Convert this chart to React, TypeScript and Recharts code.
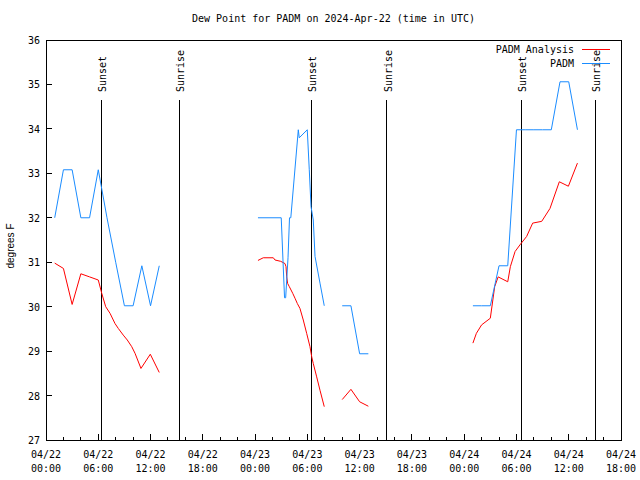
import { LineChart, Line, XAxis, YAxis, ReferenceLine, Legend } from 'recharts'

// hours since 04/22 00:00 UTC, null = no report
const padmHours = [
  1, 2, 3, 4, 5, 6, 7, 8, 9, 10, 11, 12, 13, 18,
  24.33, 27, 27.38, 27.51, 27.78, 27.95, 28.1, 28.96, 29.07, 29.99, 30.22, 30.42, 30.68, 30.88, 31.45, 31.94, 33,
  34, 35, 36, 37, 43,
  49, 50, 51, 52, 53, 54, 55, 56, 57, 58, 59, 60, 61,
]
const padmDewPoint = [
  32.0, 33.08, 33.08, 32.0, 32.0, 33.08, 32.0, 31.0, 30.02, 30.02, 30.92, 30.02, 30.92, null,
  32.0, 32.0, 30.2, 30.2, 31.1, 32.0, 32.0, 33.98, 33.8, 33.98, 33.08, 32.25, 31.95, 31.13, 30.53, 30.02, null,
  30.02, 30.02, 28.94, 28.94, null,
  30.02, 30.02, 30.02, 30.92, 30.92, 33.98, 33.98, 33.98, 33.98, 33.98, 35.06, 35.06, 33.98,
]

const analysisHours = [
  1, 2, 3, 4, 5, 6, 6.4, 6.85, 7.35, 7.92, 8.3, 8.87, 9.33, 9.84, 10.22, 10.9, 11.97, 13, 18,
  24.33, 24.94, 26.09, 26.29, 26.94, 27.43, 27.55, 27.63, 27.74, 27.93, 28.32, 28.58, 28.85, 29.15, 29.53, 29.92,
  30.3, 30.5, 30.68, 31.07, 31.45, 31.94, 33,
  34, 35, 36, 37, 43,
  49, 49.4, 50, 51, 51.5, 51.9, 53, 53.3, 53.84, 54.4, 55.17, 55.86, 56.9, 57.85, 58.92, 59.96, 61,
]
const analysisDewPoint = [
  30.98, 30.86, 30.05, 30.74, 30.67, 30.6, 30.3, 30.0, 29.85, 29.62, 29.51, 29.36, 29.25, 29.1, 28.95, 28.61, 28.93, 28.52, null,
  31.04, 31.1, 31.1, 31.05, 31.02, 30.97, 30.9, 30.67, 30.52, 30.45, 30.3, 30.19, 30.07, 29.96, 29.7, 29.4,
  29.1, 28.87, 28.72, 28.42, 28.12, 27.75, null,
  27.91, 28.14, 27.86, 27.76, null,
  29.18, 29.4, 29.59, 29.74, 30.45, 30.67, 30.56, 30.9, 31.24, 31.39, 31.58, 31.88, 31.92, 32.21, 32.81, 32.71, 33.23,
]

const sunsetHours = [6.35, 30.45, 54.55]
const sunriseHours = [15.27, 39.1, 63.05]

const seriesNames = ['PADM Analysis', 'PADM']
const seriesColors = ['#ff0000', '#1a8cff']

const dayLabels = ['04/22', '04/23', '04/24']
const hourLabels = ['00:00', '06:00', '12:00', '18:00']
const xTicks = [
  0, 2, 4, 6, 8, 10, 12, 14, 16, 18, 20, 22, 24, 26, 28, 30, 32, 34, 36,
  38, 40, 42, 44, 46, 48, 50, 52, 54, 56, 58, 60, 62, 64, 66,
]
const yTicks = [27, 28, 29, 30, 31, 32, 33, 34, 35, 36]
const xDomain = [0, 66]
const yDomain = [27, 36]

const padmData = padmHours.map((h, i) => ({ h, v: padmDewPoint[i] }))
const analysisData = analysisHours.map((h, i) => ({ h, v: analysisDewPoint[i] }))

// layout
const W = 640
const H = 480
const plotLeft = 46
const plotTop = 40
const plotRight = 19
const xAxisHeight = 40

const mono = '"DejaVu Sans Mono", monospace'

function BottomTick({ x, y, payload }: any) {
  const h = payload.value
  const major = h % 6 === 0
  return (
    <g>
      <line x1={x} x2={x} y1={y} y2={y - (major ? 6 : 3)} stroke="#000" shapeRendering="crispEdges" />
      {major && (
        <text x={x} y={y + 18} textAnchor="middle" fontFamily={mono} fontSize={10} fill="#000">
          {dayLabels[Math.floor(h / 24)] ?? dayLabels[2]}
        </text>
      )}
      {major && (
        <text x={x} y={y + 32} textAnchor="middle" fontFamily={mono} fontSize={10} fill="#000">
          {h === 66 ? hourLabels[3] : hourLabels[(h % 24) / 6]}
        </text>
      )}
    </g>
  )
}

function TopTick({ x, y, payload }: any) {
  const major = payload.value % 6 === 0
  return <line x1={x} x2={x} y1={y} y2={y + (major ? 6 : 3)} stroke="#000" shapeRendering="crispEdges" />
}

function LeftTick({ x, y, payload }: any) {
  return (
    <g>
      <line x1={x} x2={x + 6} y1={y} y2={y} stroke="#000" shapeRendering="crispEdges" />
      <text x={x - 6} y={y + 4} textAnchor="end" fontFamily={mono} fontSize={10} fill="#000">
        {payload.value}
      </text>
    </g>
  )
}

function RightTick({ x, y }: any) {
  return <line x1={x} x2={x - 6} y1={y} y2={y} stroke="#000" shapeRendering="crispEdges" />
}

const sunLine = (label: string) => (p: any) => {
  const top = Math.min(p.y1, p.y2) + 60
  const bottom = Math.max(p.y1, p.y2)
  return (
    <g>
      <line x1={p.x1} x2={p.x1} y1={bottom} y2={top} stroke="#000" shapeRendering="crispEdges" />
      <text
        transform={`translate(${p.x1 + 5},${top - 8}) rotate(-90)`}
        fontFamily={mono}
        fontSize={10}
        fill="#000"
      >
        {label}
      </text>
    </g>
  )
}

function LegendBox() {
  return (
    <div style={{ fontFamily: mono, fontSize: 10, color: '#000' }}>
      {seriesNames.map((name, i) => (
        <div key={name} style={{ display: 'flex', justifyContent: 'flex-end', alignItems: 'center', height: 14 }}>
          <span>{name}</span>
          <span style={{ display: 'inline-block', width: 28, marginLeft: 8, borderTop: `1px solid ${seriesColors[i]}` }} />
        </div>
      ))}
    </div>
  )
}

export default function App() {
  return (
    <div style={{ position: 'absolute', left: 0, top: 0, width: W, height: H, background: '#fff' }}>
      <div
        style={{
          position: 'absolute', left: plotLeft, width: W - plotLeft - plotRight, top: 13, textAlign: 'center',
          fontFamily: mono, fontSize: 10, lineHeight: '12px', color: '#000',
        }}
      >
        Dew Point for PADM on 2024-Apr-22 (time in UTC)
      </div>
      <div
        style={{
          position: 'absolute', left: 10, top: 246, transform: 'translate(-50%, -50%) rotate(-90deg)',
          whiteSpace: 'nowrap', fontFamily: '"Liberation Sans", sans-serif', fontSize: 10, color: '#000',
        }}
      >
        degrees F
      </div>
      <LineChart width={W} height={H} margin={{ top: plotTop, right: plotRight, bottom: 0, left: 0 }}>
        <XAxis
          dataKey="h" type="number" domain={xDomain} ticks={xTicks} interval={0} height={xAxisHeight}
          axisLine={false} tickLine={false} tickSize={0} tickMargin={0} tick={BottomTick} allowDataOverflow
        />
        <XAxis
          xAxisId="top" orientation="top" dataKey="h" type="number" domain={xDomain} ticks={xTicks} interval={0}
          height={0} axisLine={false} tickLine={false} tickSize={0} tickMargin={0} tick={TopTick} allowDataOverflow
        />
        <YAxis
          type="number" domain={yDomain} ticks={yTicks} interval={0} width={plotLeft}
          axisLine={false} tickLine={false} tickSize={0} tickMargin={0} tick={LeftTick} allowDataOverflow
        />
        <YAxis
          yAxisId="r" orientation="right" type="number" domain={yDomain} ticks={yTicks} interval={0} width={0}
          axisLine={false} tickLine={false} tickSize={0} tickMargin={0} tick={RightTick} allowDataOverflow
        />
        {sunsetHours.map((t) => (
          <ReferenceLine key={'ss' + t} x={t} shape={sunLine('Sunset')} />
        ))}
        {sunriseHours.map((t) => (
          <ReferenceLine key={'sr' + t} x={t} shape={sunLine('Sunrise')} />
        ))}
        <Line
          data={analysisData} dataKey="v" name={seriesNames[0]} type="linear" stroke={seriesColors[0]}
          strokeWidth={1} dot={false} activeDot={false} isAnimationActive={false}
        />
        <Line
          data={padmData} dataKey="v" name={seriesNames[1]} type="linear" stroke={seriesColors[1]}
          strokeWidth={1} dot={false} activeDot={false} isAnimationActive={false}
        />
        <Legend
          layout="vertical" align="center" verticalAlign="middle" content={LegendBox}
          wrapperStyle={{ top: 42, right: 30, left: 'auto', width: 'auto' }}
        />
      </LineChart>
      {/* plot frame */}
      <div
        style={{
          position: 'absolute', left: plotLeft, top: plotTop, boxSizing: 'border-box',
          width: W - plotLeft - plotRight + 1, height: H - plotTop - xAxisHeight + 1,
          border: '1px solid #000', pointerEvents: 'none',
        }}
      />
    </div>
  )
}
